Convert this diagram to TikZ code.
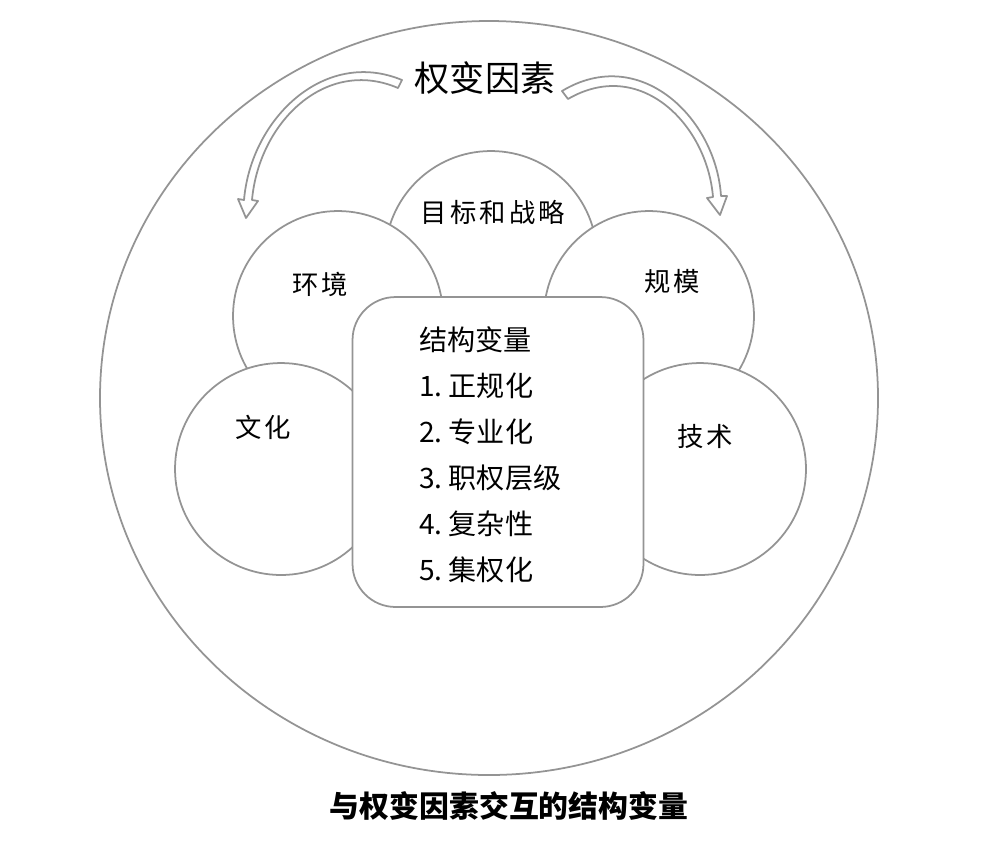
\documentclass[tikz,border=0pt]{standalone}
\usepackage{fontspec}
\setmainfont{Noto Sans CJK SC}
\usetikzlibrary{positioning}

\begin{document}
\begin{tikzpicture}[
    x=0.02cm, y=-0.02cm,
    outline/.style={draw=black!42, line width=1pt},
    factor/.style={outline, circle, fill=white, minimum size=#1, inner sep=0pt},
    factor/.default=4.2cm,
    blockarrow/.style={outline, fill=white, line join=round},
    label/.style={font=\fontsize{15}{18}\selectfont\addfontfeature{LetterSpace=12}, inner sep=1pt},
    item/.style={font=\fontsize{16}{19}\selectfont, anchor=west, inner sep=1pt}
]
    \useasboundingbox (0,0) rectangle (983,850);

    % outer boundary
    \draw[outline] (489,398) ellipse [x radius=389, y radius=377];

    % title and the two hollow arrows
    \node[font=\fontsize{20}{24}\selectfont] (title) at (485,78) {权变因素};
    \draw[blockarrow] (402,80) .. controls (325,48) and (251,118) .. (244,200)
        -- (238,199) -- (246,218) -- (258,201) -- (252,200)
        .. controls (259,122) and (326,57) .. (398,88) -- cycle;
    \draw[blockarrow] (562,91) .. controls (640,44) and (716,118) .. (721,196)
        -- (727,196) -- (720,215) -- (707,198) -- (713,197)
        .. controls (707,124) and (640,57) .. (568,99) -- cycle;

    % contingency factors
    \node[factor=4.24cm] (goal) at (491,257) {};
    \node[factor] (env) at (338,316) {};
    \node[factor] (size) at (649,316) {};
    \node[factor=4.24cm] (culture) at (281,469) {};
    \node[factor=4.24cm] (tech) at (700,469) {};

    \node[label] (goaltxt) at (493,212) {目标和战略};
    \node[label] (envtxt) at (320,284) {环境};
    \node[label] (sizetxt) at (672,281) {规模};
    \node[label] (culturetxt) at (263,427) {文化};
    \node[label] (techtxt) at (705,436) {技术};

    % structural variables
    \node[outline, fill=white, rounded corners=0.86cm, minimum width=5.82cm, minimum height=6.2cm] (struct) at (498,452) {};
    \node[item] (structtxt) at (417,340) {结构变量};
    \foreach \txt [count=\i] in {正规化, 专业化, 职权层级, 复杂性, 集权化}
        \node[item] (var\i) at (417,340+46*\i) {\i.\ \txt};

    \node[font=\fontsize{17}{20}\selectfont\bfseries] (caption) at (509,806) {与权变因素交互的结构变量};
\end{tikzpicture}
\end{document}
